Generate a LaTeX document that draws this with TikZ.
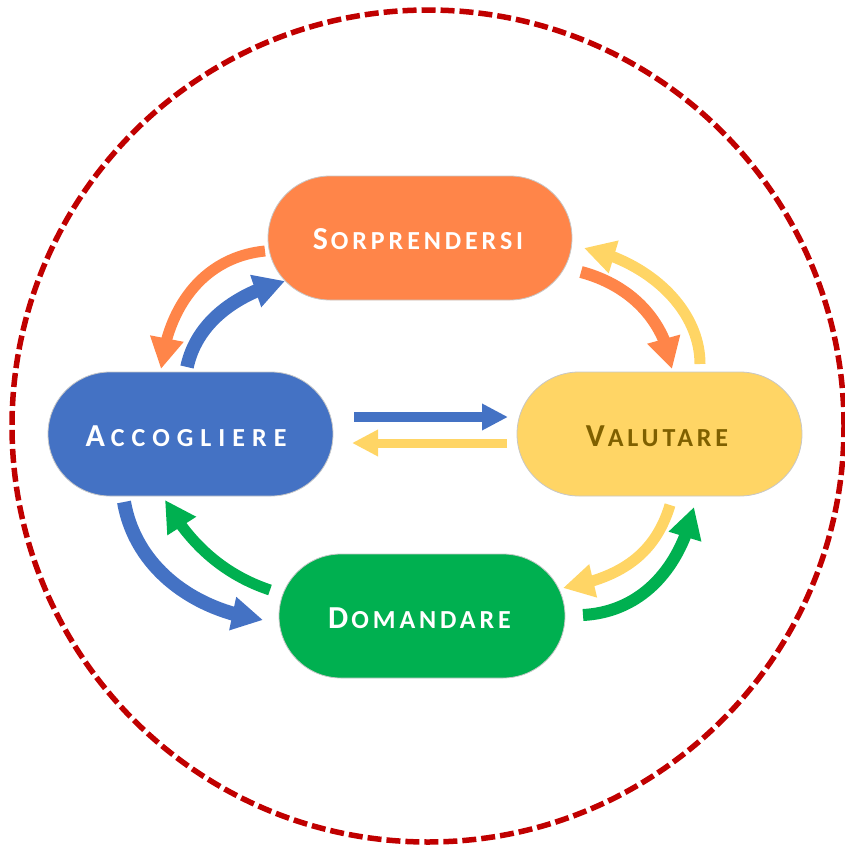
\documentclass[tikz,border=0pt]{standalone}
\usepackage{fontspec}
\usetikzlibrary{arrows.meta,bending,shapes.misc}
\newfontfamily\lblfont[LetterSpace=15]{Carlito}
\newfontfamily\lblwide[LetterSpace=27]{Carlito}
\newcommand{\capt}[2]{{\lblfont\bfseries\fontsize{32}{32}\selectfont #1\kern 3pt\fontsize{26}{32}\selectfont #2}}
\newcommand{\captw}[2]{{\lblwide\bfseries\fontsize{32}{32}\selectfont #1\kern 6pt\fontsize{26}{32}\selectfont #2}}
\definecolor{cOrange}{HTML}{FF8549}
\definecolor{cBlue}{HTML}{4472C4}
\definecolor{cYellow}{HTML}{FFD565}
\definecolor{cGreen}{HTML}{00B050}
\definecolor{cRed}{HTML}{C00000}
\definecolor{cBrown}{HTML}{7F6000}
\tikzset{
  pill/.style={rounded rectangle,minimum height=124pt,inner sep=0pt,draw=black!22,line width=0.8pt,text=white},
  flow/.style={line width=#1,-{Triangle[length=31pt,width=32pt,flex]}},
  flowthin/.style={line width=#1,-{Triangle[length=26pt,width=25pt]}},
}
\begin{document}
\begin{tikzpicture}[x=1pt,y=-1pt]
\useasboundingbox (0,0) rectangle (845,846);
\node[circle,draw=cRed,line width=5.5pt,dash pattern=on 14pt off 5pt,minimum size=832pt,inner sep=0pt] (ring) at (428,426) {};
\node[pill,fill=cOrange,minimum width=304pt] (S) at (420,238) {\raisebox{-11pt}[0pt][0pt]{\capt{S}{ORPRENDERSI}\kern 4pt}};
\node[pill,fill=cBlue,minimum width=285pt] (A) at (190.5,434) {\raisebox{-12pt}[0pt][0pt]{\captw{A}{CCOGLIERE}\kern 9pt}};
\node[pill,fill=cYellow,text=cBrown,minimum width=285pt] (V) at (659.5,434) {\raisebox{-12pt}[0pt][0pt]{\capt{V}{ALUTARE}\kern 5pt}};
\node[pill,fill=cGreen,minimum width=286pt] (D) at (422,616) {\raisebox{-12pt}[0pt][0pt]{\capt{D}{OMANDARE}\kern 5pt}};

\coordinate (sa0) at (265,251); \coordinate (sa1) at (161,369);
\coordinate (as0) at (187,367); \coordinate (as1) at (285,281);
\coordinate (sv0) at (581,272); \coordinate (sv1) at (672,369);
\coordinate (vs0) at (700,364); \coordinate (vs1) at (584,248);
\coordinate (vd0) at (670,505); \coordinate (vd1) at (563,588);
\coordinate (dv0) at (583,615); \coordinate (dv1) at (694,507);
\coordinate (da0) at (270,590); \coordinate (da1) at (165,500);
\coordinate (ad0) at (124,502); \coordinate (ad1) at (263,620);
\coordinate (av0) at (354,417); \coordinate (av1) at (508,417);
\coordinate (va0) at (507,443); \coordinate (va1) at (352,443);

\draw[flow=11pt,cOrange] (sa0) .. controls (205,257) and (168,305) .. (sa1);
\draw[flow=13.5pt,cBlue] (as0) .. controls (196,325) and (232,295) .. (as1);
\draw[flow=12pt,cOrange] (sv0) .. controls (630,285) and (665,320) .. (sv1);
\draw[flow=11pt,cYellow] (vs0) .. controls (700,310) and (650,262) .. (vs1);
\draw[flow=11pt,cYellow] (vd0) .. controls (655,555) and (620,578) .. (vd1);
\draw[flow=12pt,cGreen] (dv0) .. controls (640,612) and (680,570) .. (dv1);
\draw[flow=11pt,cGreen] (da0) .. controls (225,575) and (190,545) .. (da1);
\draw[flow=14pt,cBlue] (ad0) .. controls (135,565) and (190,610) .. (ad1);
\draw[flowthin=9.5pt,cBlue] (av0) -- (av1);
\draw[flowthin=9pt,cYellow] (va0) -- (va1);
\end{tikzpicture}
\end{document}
